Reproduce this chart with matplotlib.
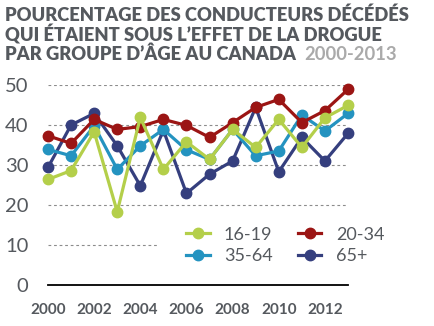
import matplotlib.pyplot as plt
import numpy as np

years = np.arange(2000, 2014)
age_16_19 = [26.4, 28.6, 38.3, 18.3, 41.9, 28.9, 35.8, 31.4, 38.9, 34.4, 41.4, 34.4, 41.8, 44.9]
age_20_34 = [37.3, 35.4, 41.4, 38.9, 39.6, 41.4, 39.9, 36.9, 40.6, 44.4, 46.4, 40.6, 43.6, 48.9]
age_35_64 = [33.9, 32.3, 39.8, 28.9, 34.8, 38.9, 33.8, 31.4, 38.9, 32.3, 33.5, 42.5, 38.5, 42.9]
age_65_plus = [29.4, 40.0, 42.9, 34.8, 24.8, 38.7, 22.9, 27.7, 31.0, 44.4, 28.3, 36.9, 31.0, 37.9]
yticks = [0, 10, 20, 30, 40, 50]
xticks = [2000, 2002, 2004, 2006, 2008, 2010, 2012]

plt.rcParams['font.family'] = ['Lato', 'DejaVu Sans']
text_color = '#55595e'

fig = plt.figure(figsize=(4.35, 3.26), dpi=100)
ax = fig.add_axes([48 / 435, 1 - 285 / 326, 300 / 435, 200 / 326])
ax.set_xlim(2000, 2013)
ax.set_ylim(0, 50)

# dotted gridlines (the 10 line stops short of the legend)
for y in yticks[2:]:
    ax.axhline(y, color='#8c8c8c', lw=0.8, ls=(0, (2.5, 2.5)), zorder=0)
ax.axhline(10, xmax=0.37, color='#8c8c8c', lw=0.8, ls=(0, (2.5, 2.5)), zorder=0)
ax.axhline(0, color='black', lw=1.3, zorder=1, clip_on=False)

series = [
    (age_65_plus, '#353f7e', '65+'),
    (age_35_64, '#2493c0', '35-64'),
    (age_20_34, '#9b1514', '20-34'),
    (age_16_19, '#b4cf4a', '16-19'),
]
handles = {}
for vals, col, lab in series:
    line, = ax.plot(years, vals, color=col, lw=2.3, marker='o', ms=7.5,
                    clip_on=False, label=lab, zorder=3)
    handles[lab] = line

for s in ax.spines.values():
    s.set_visible(False)
ax.set_yticks(yticks)
ax.set_xticks(xticks)
ax.tick_params(length=0)
ax.tick_params(axis='y', labelsize=14.5, labelcolor=text_color, pad=14)
ax.tick_params(axis='x', labelsize=11, labelcolor=text_color, pad=13)
for t in ax.get_xticklabels():
    t.set_fontweight('bold')

order = ['16-19', '35-64', '20-34', '65+']
ax.legend([handles[k] for k in order], order, ncol=2, frameon=False,
          loc='lower left', bbox_to_anchor=(0.43, 0.06), fontsize=13,
          labelcolor=text_color, handlelength=1.3, handletextpad=0.8,
          columnspacing=1.4, labelspacing=0.3, borderpad=0)

title_lines = ['POURCENTAGE DES CONDUCTEURS DÉCÉDÉS',
               'QUI ÉTAIENT SOUS L\u2019EFFET DE LA DROGUE',
               'PAR GROUPE D\u2019ÂGE AU CANADA']
for i, line in enumerate(title_lines):
    t = fig.text(5 / 435, 1 - (15 + i * 19.5) / 326, line, fontsize=13.2,
                 fontweight='heavy', color=text_color, va='center', ha='left')
fig.canvas.draw()
bb = t.get_window_extent()
fig.text((bb.x1 + 8) / 435, 1 - (15 + 2 * 19.5) / 326, '2000-2013',
         fontsize=13.2, fontweight='bold', color='#aaaaaa', va='center', ha='left')

fig.savefig('out.png', dpi=100)
